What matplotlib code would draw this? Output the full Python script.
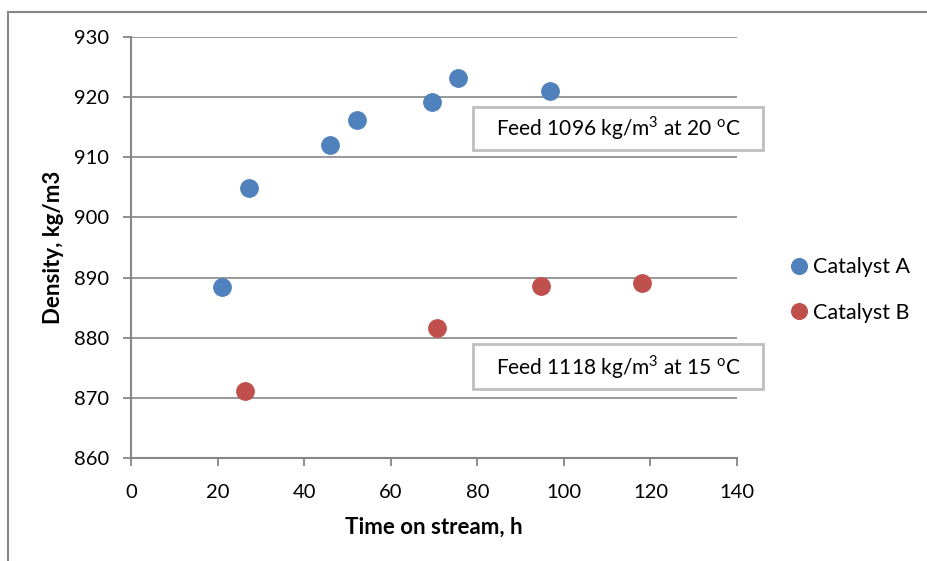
import matplotlib
matplotlib.use('Agg')
import matplotlib.pyplot as plt
from matplotlib.lines import Line2D
from matplotlib.patches import Rectangle

plt.rcParams['font.family'] = ['Lato', 'DejaVu Sans']
plt.rcParams['mathtext.fontset'] = 'custom'
plt.rcParams['mathtext.rm'] = 'Lato'

# data
time_a = [21.0, 27.3, 46.0, 52.2, 69.5, 75.5, 96.8]
dens_a = [888.4, 904.9, 912.0, 916.2, 919.2, 923.2, 921.0]
time_b = [26.3, 70.7, 94.7, 118.0]
dens_b = [871.1, 881.6, 888.6, 889.1]

xticks = [0, 20, 40, 60, 80, 100, 120, 140]
yticks = [860, 870, 880, 890, 900, 910, 920, 930]

blue = '#4F81BD'
red = '#C0504D'
grey = '#868686'

fig = plt.figure(figsize=(9.28, 5.61), dpi=100)
ax = fig.add_axes([0.1412, 0.1836, 0.6530, 0.7504])

ax.plot(time_a, dens_a, 'o', color=blue, markersize=12.5, label='Catalyst A', zorder=3)
ax.plot(time_b, dens_b, 'o', color=red, markersize=12.5, label='Catalyst B', zorder=3)

ax.set_xlim(0, 140)
ax.set_ylim(860, 930)
ax.set_xticks(xticks)
ax.set_yticks(yticks)
ax.tick_params(axis='both', labelsize=14.5, color=grey, width=1.3)
ax.tick_params(axis='y', length=6, pad=10)
ax.tick_params(axis='x', length=6, pad=13)
ax.grid(axis='y', color=grey, linewidth=1.2)
ax.set_axisbelow(True)
for s in ['top', 'right']:
    ax.spines[s].set_visible(False)
for s in ['left', 'bottom']:
    ax.spines[s].set_color(grey)
    ax.spines[s].set_linewidth(1.5)

ax.set_xlabel('Time on stream, h', fontsize=16, fontweight='bold', labelpad=11)
ax.set_ylabel('Density, kg/m3', fontsize=16, fontweight='bold', labelpad=7)

# annotation boxes (axes coordinates)
for y0, y1 in [(0.732, 0.834), (0.164, 0.271)]:
    ax.add_patch(Rectangle((0.564, y0), 0.479, y1 - y0, transform=ax.transAxes,
                           facecolor='white', edgecolor='#BFBFBF', linewidth=2,
                           clip_on=False, zorder=4))
ax.text(0.804, 0.783, r'Feed 1096 kg/m$^3$ at 20 $^{\rm o}$C', transform=ax.transAxes,
        fontsize=15, ha='center', va='center', zorder=5)
ax.text(0.804, 0.217, r'Feed 1118 kg/m$^3$ at 15 $^{\rm o}$C', transform=ax.transAxes,
        fontsize=15, ha='center', va='center', zorder=5)

fig.legend(loc='center left', bbox_to_anchor=(0.847, 0.483), frameon=False, fontsize=15.5,
           handletextpad=0.05, handlelength=1.2, labelspacing=1.2, markerscale=0.9,
           borderpad=0, borderaxespad=0)

# outer chart frame (left and top edges visible)
fig.add_artist(Line2D([8 / 928, 8 / 928], [0, 1 - 12 / 561], transform=fig.transFigure,
                      color=grey, linewidth=1.5))
fig.add_artist(Line2D([8 / 928, 1], [1 - 12 / 561, 1 - 12 / 561], transform=fig.transFigure,
                      color=grey, linewidth=1.5))

fig.savefig('out.png', dpi=100)
